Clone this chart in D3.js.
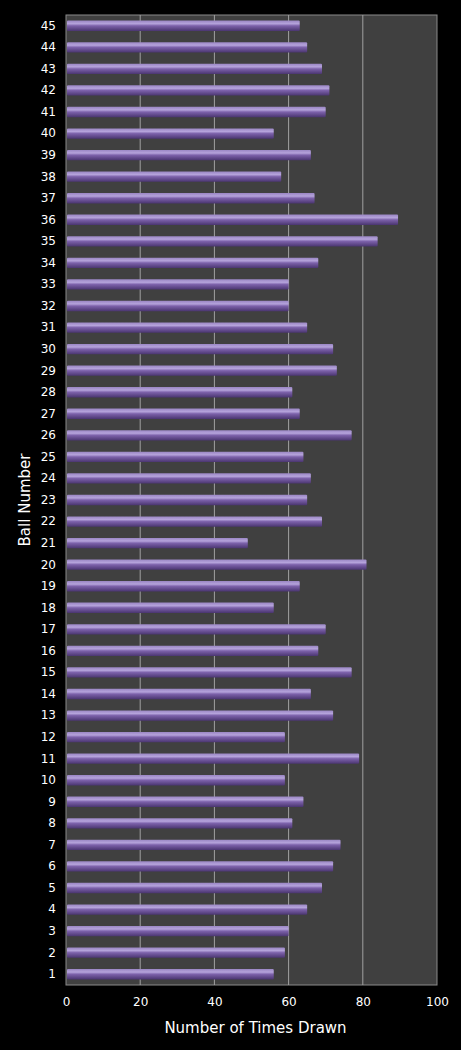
<!DOCTYPE html><html><head><meta charset="utf-8"><script src="https://cdn.jsdelivr.net/npm/d3@7"></script>
<style>body{margin:0;background:#000}</style></head><body><svg id="c" width="461" height="1050"></svg>
<script>
const balls = d3.range(1,46);
const counts = [56,59,60,65,69,72,74,61,64,59,79,59,72,66,77,68,70,56,63,81,49,69,65,66,64,77,63,61,73,72,65,60,60,68,84,89.5,67,58,66,56,70,71,69,65,63];
const xTicks = [0,20,40,60,80,100];
const svg = d3.select("#c");
const m = {l:66,r:437,t:15,b:985};
const x = d3.scaleLinear().domain([0,100]).range([m.l,m.r]);
const y = d3.scaleBand().domain(balls.slice().reverse()).range([m.t,m.b]).paddingInner(0.52).paddingOuter(0.26);
const defs = svg.append("defs");
const g = defs.append("linearGradient").attr("id","bg").attr("x1",0).attr("x2",0).attr("y1",0).attr("y2",1);
[[0,"#9a86c4"],[0.3,"#b5a3db"],[0.5,"#7d62ab"],[1,"#4a3570"]].forEach(s=>g.append("stop").attr("offset",s[0]).attr("stop-color",s[1]));
svg.append("rect").attr("x",m.l).attr("y",m.t).attr("width",m.r-m.l).attr("height",m.b-m.t).attr("fill","#404040").attr("stroke","#8a8a8a");
svg.selectAll(".gl").data(xTicks.slice(1,-1)).enter().append("line").attr("x1",d=>x(d)).attr("x2",d=>x(d)).attr("y1",m.t).attr("y2",m.b).attr("stroke","#a0a0a0").attr("stroke-width",1);
svg.selectAll(".bar").data(balls).enter().append("rect").attr("x",x(0)+1).attr("y",d=>y(d)).attr("height",y.bandwidth()).attr("width",(d,i)=>x(counts[i])-x(0)-1).attr("fill","url(#bg)").attr("rx",1);
const ax = svg.append("g").attr("transform",`translate(0,${m.b})`).call(d3.axisBottom(x).tickValues(xTicks).tickSize(0).tickPadding(12));
ax.select(".domain").remove();
ax.selectAll("text").attr("fill","#fff").style("font-family","Verdana, DejaVu Sans, sans-serif").style("font-size","12px");
const ay = svg.append("g").attr("transform",`translate(${m.l},0)`).call(d3.axisLeft(y).tickSize(0).tickPadding(10));
ay.select(".domain").remove();
ay.selectAll("text").attr("fill","#fff").style("font-family","Verdana, DejaVu Sans, sans-serif").style("font-size","12px");
svg.append("text").attr("x",(m.l+m.r)/2+4).attr("y",1033).attr("text-anchor","middle").attr("fill","#fff").style("font-family","Verdana, DejaVu Sans, sans-serif").style("font-size","15px").text("Number of Times Drawn");
svg.append("text").attr("transform","translate(30,500) rotate(-90)").attr("text-anchor","middle").attr("fill","#fff").style("font-family","Verdana, DejaVu Sans, sans-serif").style("font-size","15px").text("Ball Number");
</script></body></html>
